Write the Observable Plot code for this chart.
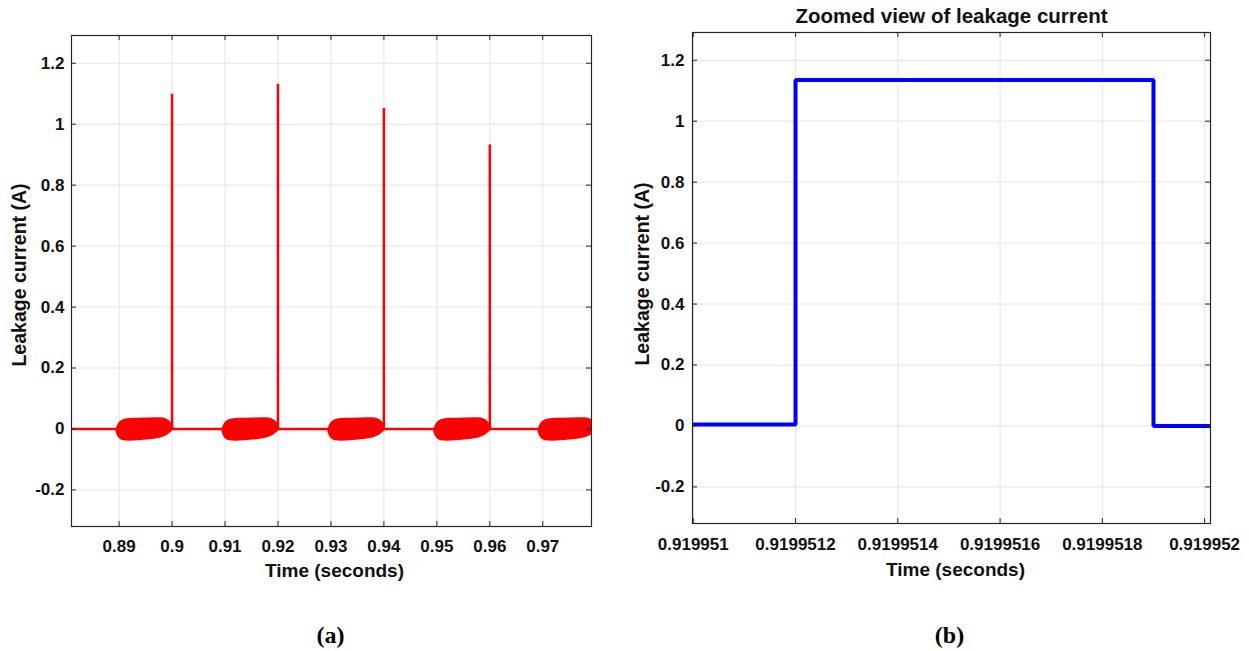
<!DOCTYPE html>
<html>
<head>
<meta charset="utf-8">
<script src="https://cdn.jsdelivr.net/npm/d3@7"></script>
<script src="https://cdn.jsdelivr.net/npm/@observablehq/plot@0.6"></script>
<style>
  html, body { margin: 0; padding: 0; background: #fff; }
  #wrap { position: relative; width: 1249px; height: 651px; background: #fff; overflow: hidden; }
  .panel { position: absolute; top: 0; }
  #pa { left: 0; }
  #pb { left: 620px; }
</style>
</head>
<body>
<div id="wrap"><div id="pa" class="panel"></div><div id="pb" class="panel"></div></div>
<script>
// ---------- Panel (a): leakage current over several cycles ----------
const aTimeTicks = [0.89, 0.90, 0.91, 0.92, 0.93, 0.94, 0.95, 0.96, 0.97];
const aYTicks = [-0.2, 0, 0.2, 0.4, 0.6, 0.8, 1.0, 1.2];
const aTraceStart = 0.88101;
const aTraceEnd = 0.9792;
const spikeTimes = [0.90, 0.92, 0.94, 0.96];
const spikePeaks = [1.100, 1.133, 1.053, 0.933];
// high-frequency oscillation bursts (drawn as filled envelopes)
const burstStarts = [0.8896, 0.9096, 0.9296, 0.9496, 0.9693];
const burstEnds   = [0.9000, 0.9200, 0.9400, 0.9600, 0.9800];
// envelope shape of each burst (fraction of burst window)
const envFrac  = [0, 0.03, 0.08, 0.16, 0.3, 0.55, 0.8, 0.9, 0.96, 1];
const envUpper = [-0.004, 0.014, 0.024, 0.030, 0.032, 0.033, 0.034, 0.031, 0.022, 0.008];
const envLower = [-0.008, -0.026, -0.034, -0.037, -0.037, -0.034, -0.027, -0.020, -0.011, -0.003];

// ---------- Panel (b): zoomed view ----------
const bTimeTicks = [0.919951, 0.9199512, 0.9199514, 0.9199516, 0.9199518, 0.919952];
const bYTicks = [-0.2, 0, 0.2, 0.4, 0.6, 0.8, 1.0, 1.2];
const zoomTimes  = [0.9199509985, 0.9199512, 0.9199512, 0.9199519, 0.9199519, 0.9199520115];
const zoomValues = [0.005, 0.005, 1.135, 1.135, 0.0, 0.0];

const yDomain = [-0.32, 1.291];
const aXDomain = [0.88101, 0.9792];
const bXDomain = [0.9199509985, 0.9199520115];

// build tables
const aTrace = [{t: aTraceStart, v: 0}];
spikeTimes.forEach((t, i) => {
  aTrace.push({t, v: 0}, {t, v: spikePeaks[i]}, {t, v: 0});
});
aTrace.push({t: aTraceEnd, v: 0});

const bursts = [];
burstStarts.forEach((s, i) => {
  const e = burstEnds[i];
  envFrac.forEach((f, j) => {
    bursts.push({burst: i, t: s + f * (e - s), hi: envUpper[j], lo: envLower[j]});
  });
});

const zoomTrace = zoomTimes.map((t, i) => ({t, v: zoomValues[i]}));

const FONT = "'Liberation Sans', Arial, Helvetica, sans-serif";
const GRID = "#e4e4e4";
const AXC = "#262626";

function panel({width, mL, mR, mT, mB, xDomain, xTicks, yTicks, xFmt, marks, yLabelDx, yLabelDy, xLabelDy, xLabelDx, tagText, tagDy, tagDx, title, xPad, yPad}) {
  const height = 651;
  const innerW = width - mL - mR;
  const innerH = height - mT - mB;
  const yFmt = d => String(+d.toFixed(2));
  const all = [
    Plot.gridX(xTicks, {stroke: GRID, strokeOpacity: 1, strokeWidth: 1}),
    Plot.gridY(yTicks, {stroke: GRID, strokeOpacity: 1, strokeWidth: 1}),
    ...marks,
    // inward tick marks on all four sides
    Plot.ruleX(xTicks, {stroke: AXC, insetTop: innerH - 5}),
    Plot.ruleX(xTicks, {stroke: AXC, insetBottom: innerH - 5}),
    Plot.ruleY(yTicks, {stroke: AXC, insetRight: innerW - 5}),
    Plot.ruleY(yTicks, {stroke: AXC, insetLeft: innerW - 5}),
    Plot.frame({stroke: AXC, strokeWidth: 1.2}),
    Plot.axisX(xTicks, {tickSize: 0, tickPadding: xPad, tickFormat: xFmt, fontSize: 17, fontWeight: "bold", fill: "#111", label: null}),
    Plot.axisY(yTicks, {tickSize: 0, tickPadding: yPad, tickFormat: yFmt, fontSize: 17, fontWeight: "bold", fill: "#111", label: null}),
    Plot.text(["Time (seconds)"], {frameAnchor: "bottom", dy: xLabelDy, dx: xLabelDx, lineAnchor: "middle", textAnchor: "middle", fontSize: 19, fontWeight: "bold", fill: "#111", text: d => d}),
    Plot.text(["Leakage current (A)"], {frameAnchor: "left", rotate: -90, dx: yLabelDx, dy: yLabelDy, lineAnchor: "bottom", textAnchor: "middle", fontSize: 19.5, fontWeight: "bold", fill: "#111", text: d => d}),
    Plot.text([tagText], {frameAnchor: "bottom", dy: tagDy, dx: tagDx, lineAnchor: "middle", textAnchor: "middle", fontSize: 24, fontWeight: "bold", fontFamily: "'Liberation Serif', 'Times New Roman', serif", fill: "#000", text: d => d})
  ];
  if (title) {
    all.push(Plot.text([title], {frameAnchor: "top", dy: -16, lineAnchor: "middle", textAnchor: "middle", fontSize: 20.5, fontWeight: "bold", fill: "#111", text: d => d}));
  }
  return Plot.plot({
    width, height,
    marginLeft: mL, marginRight: mR, marginTop: mT, marginBottom: mB,
    style: {fontFamily: FONT, fontSize: "17px", background: "#fff", overflow: "visible"},
    x: {type: "linear", domain: xDomain},
    y: {type: "linear", domain: yDomain},
    marks: all
  });
}

const plotA = panel({
  width: 620, mL: 71, mR: 29, mT: 35, mB: 125,
  xDomain: aXDomain, xTicks: aTimeTicks, yTicks: aYTicks,
  xFmt: d => String(+d.toFixed(2)),
  xPad: 13, yPad: 7,
  xLabelDy: 44, xLabelDx: 3, yLabelDx: -46, yLabelDy: -6,
  tagText: "(a)", tagDy: 109, tagDx: -1,
  marks: [
    Plot.areaY(bursts, {x: "t", y1: "lo", y2: "hi", z: "burst", fill: "#ff0000", stroke: "#ff0000", strokeWidth: 2, strokeLinejoin: "round", curve: "basis", clip: true}),
    Plot.line(aTrace, {x: "t", y: "v", stroke: "#ff0000", strokeWidth: 2.5, strokeLinejoin: "miter", clip: true})
  ]
});

const plotB = panel({
  width: 629, mL: 72, mR: 39, mT: 32, mB: 128,
  xDomain: bXDomain, xTicks: bTimeTicks, yTicks: bYTicks,
  xFmt: d => String(+d.toFixed(7)),
  xPad: 14, yPad: 8,
  xLabelDy: 46, xLabelDx: 4, yLabelDx: -44, yLabelDy: -4,
  tagText: "(b)", tagDy: 112, tagDx: -2,
  title: "Zoomed view of leakage current",
  marks: [
    Plot.line(zoomTrace, {x: "t", y: "v", stroke: "#0000ff", strokeWidth: 4, strokeLinejoin: "miter", clip: true})
  ]
});

document.getElementById("pa").appendChild(plotA);
document.getElementById("pb").appendChild(plotB);
</script>
</body>
</html>
